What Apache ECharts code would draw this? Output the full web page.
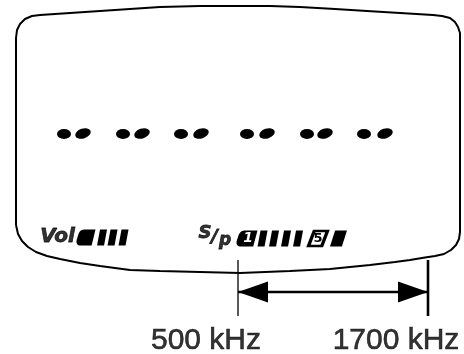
<!DOCTYPE html>
<html><head><meta charset="utf-8">
<script src="https://cdn.jsdelivr.net/npm/echarts@6/dist/echarts.min.js"></script>
<style>html,body{margin:0;padding:0;background:#fff}#c{width:464px;height:354px}</style>
</head><body><div id="c"></div>
<script>
// ---- data ----
const freqMarks = [500, 1700];              // kHz, range limits
const freqUnit = 'kHz';
const digitPairsLeft = [64, 123, 181, 247, 307, 364];   // LCD "--" left blobs
const digitPairsRight = [83, 142, 201, 267, 325, 385];  // LCD "--" right blobs
const volSegments = ['cap', 'bar', 'bar', 'bar'];
const volSegX = [86, 102, 112.5, 123.5];
const spSegments = ['cap1', 'bar', 'bar', 'bar', 'bar', 'box5', 'wide'];
const spSegX = [247, 262.5, 274, 286, 298, 318, 338.5];
const outline = [[16,225],[16,38],[17,30],[20,24],[25,19],[32,16],[40,15],[70,13],[100,11],[130,9],[160,7],[200,6],[233,6],[270,6],[300,7],[335,9],[367,11],[400,13],[433,15],[442,16],[450,18],[455,22],[458,27],[460,33],[460,232],[459,239],[456,245],[451,250],[444,254],[435,256],[425,257.5],[410,260],[395,262],[370,265],[330,269],[290,271],[240,273],[200,272],[160,271],[130,270],[100,266],[80,263],[60,259],[47,256],[36,252],[28,247],[22,241],[18,234],[16,225]];

// ---- layout helpers ----
const W = 464, H = 354;
const tickPx = [238, 428];
const kPerPx = (freqMarks[1] - freqMarks[0]) / (tickPx[1] - tickPx[0]);
const fMin = freqMarks[0] - tickPx[0] * kPerPx;
const fMax = freqMarks[0] + (W - tickPx[0]) * kPerPx;

const PAR = 'path://M30,0 L100,0 L70,100 L0,100 Z';
const CAP = 'path://M45,0 L100,0 L80,100 L25,100 C5,100 0,85 3,65 L12,30 C18,8 28,0 45,0 Z';
const ink = '#000';
const clear = 'rgba(0,0,0,0)';

function segItem(kind, x, y, h) {
  const base = {value: [x, y], symbol: PAR, symbolSize: [10, h], itemStyle: {color: ink}};
  if (kind === 'cap') { base.symbol = CAP; base.symbolSize = [19, h]; }
  if (kind === 'cap1') { base.symbol = CAP; base.symbolSize = [21, h];
    base.label = {show: true, position: 'inside', formatter: '1', color: '#fff', fontFamily: 'DejaVu Sans', fontWeight: 'bold', fontStyle: 'italic', fontSize: 14, offset: [1, 0], textBorderWidth: 0}; }
  if (kind === 'box5') { base.symbolSize = [19, h - 1]; base.itemStyle = {color: '#fff', borderColor: ink, borderWidth: 3};
    base.label = {show: true, position: 'inside', formatter: '5', color: ink, fontFamily: 'DejaVu Sans', fontWeight: 'bold', fontSize: 13, textBorderWidth: 0}; }
  if (kind === 'wide') { base.symbolSize = [17, h]; }
  return base;
}

const volData = volSegments.map((k, i) => segItem(k, volSegX[i], 237.5, 16));
const spData = spSegments.map((k, i) => segItem(k, spSegX[i], 238.5, 16));

const txt = (t, x, y, size) => ({value: [x, y], label: {show: true, position: 'inside', formatter: t, color: ink, textBorderColor: ink, textBorderWidth: 0.8, fontFamily: 'DejaVu Sans', fontWeight: 'bold', fontStyle: 'italic', fontSize: size}});

const chart = echarts.init(document.getElementById('c'), null, {renderer: 'canvas'});
chart.setOption({
  animation: false,
  backgroundColor: '#fff',
  grid: {left: 0, right: 0, top: 0, bottom: 0},
  xAxis: [
    {type: 'value', min: 0, max: W, show: false},
    {type: 'value', min: fMin, max: fMax, show: false}
  ],
  yAxis: [{type: 'value', min: 0, max: H, inverse: true, show: false}],
  series: [
    {type: 'line', xAxisIndex: 0, data: outline, symbol: 'none', lineStyle: {color: ink, width: 2}, silent: true},
    {type: 'scatter', xAxisIndex: 0, symbol: 'circle', symbolSize: [14, 10], itemStyle: {color: ink, opacity: 1},
      data: digitPairsLeft.map(x => [x, 134])},
    {type: 'scatter', xAxisIndex: 0, symbol: 'circle', symbolSize: [16, 10], symbolRotate: 18, itemStyle: {color: ink, opacity: 1},
      data: digitPairsRight.map(x => [x, 133.5])},
    {type: 'scatter', xAxisIndex: 0, data: volData, itemStyle: {opacity: 1}},
    {type: 'scatter', xAxisIndex: 0, data: spData, itemStyle: {opacity: 1}},
    {type: 'scatter', xAxisIndex: 0, symbolSize: 1, itemStyle: {color: clear},
      data: [txt('Vol', 57.5, 237, 20), txt('S', 205, 233, 18), txt('/', 214.5, 237, 18), txt('p', 225, 241, 17)]},
    // frequency limit lines
    {type: 'line', xAxisIndex: 1, data: [[freqMarks[0], 260], [freqMarks[0], 316]], symbol: 'none', lineStyle: {color: ink, width: 1.3}},
    {type: 'line', xAxisIndex: 1, data: [[freqMarks[1], 260], [freqMarks[1], 316]], symbol: 'none', lineStyle: {color: ink, width: 2.6}},
    {type: 'line', xAxisIndex: 1, data: [[freqMarks[0], 292], [freqMarks[1], 292]], symbol: 'none', lineStyle: {color: ink, width: 2.6}},
    {type: 'scatter', xAxisIndex: 1, symbol: 'triangle', symbolSize: [21, 30], itemStyle: {color: ink, opacity: 1},
      data: [
        {value: [freqMarks[0], 292], symbolRotate: 90, symbolOffset: [15, 0]},
        {value: [freqMarks[1], 292], symbolRotate: -90, symbolOffset: [-15, 0]}
      ]},
    {type: 'scatter', xAxisIndex: 1, symbolSize: 1, itemStyle: {color: clear},
      label: {show: true, position: 'inside', offset: [-32, 0], color: ink, textBorderColor: ink, textBorderWidth: 0.6, fontFamily: 'Liberation Sans, Arial, sans-serif', fontSize: 30,
        formatter: p => p.value[0] + ' ' + freqUnit},
      data: freqMarks.map(f => [f, 341])}
  ]
});
</script>
</body></html>
